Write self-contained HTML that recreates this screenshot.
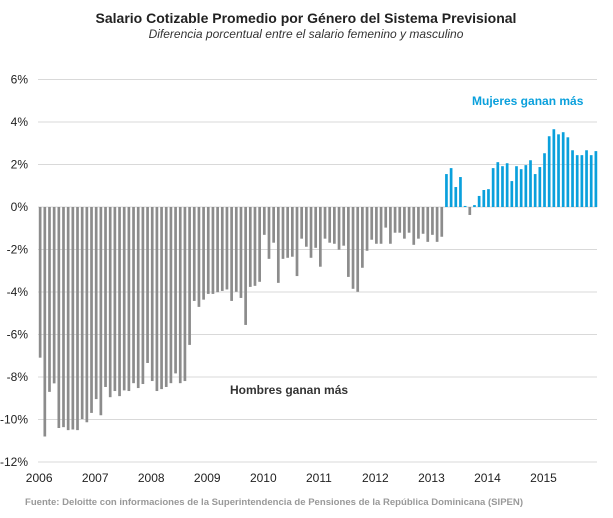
<!DOCTYPE html>
<html><head><meta charset="utf-8"><style>
body{margin:0;background:#fff;}
svg{display:block;font-family:"Liberation Sans",sans-serif;}
</style></head><body>
<svg width="613" height="518" viewBox="0 0 613 518">
<text x="306" y="23" text-anchor="middle" font-size="14" font-weight="bold" fill="#222">Salario Cotizable Promedio por Género del Sistema Previsional</text>
<text x="306" y="38" text-anchor="middle" font-size="12" font-style="italic" fill="#333">Diferencia porcentual entre el salario femenino y masculino</text>
<g id="grid"></g><g id="bars"></g><g id="yax"></g><g id="xax"></g>
<text x="472" y="105" font-size="12" font-weight="bold" fill="#0aa0dc">Mujeres ganan más</text>
<text x="230" y="394" font-size="12" font-weight="bold" fill="#333">Hombres ganan más</text>
<text x="25" y="505" font-size="9.2" font-weight="bold" fill="#999" textLength="498" lengthAdjust="spacingAndGlyphs">Fuente: Deloitte con informaciones de la Superintendencia de Pensiones de la República Dominicana (SIPEN)</text>
</svg>
<script>
const years=["2006","2007","2008","2009","2010","2011","2012","2013","2014","2015"];
const yTicks=[6,4,2,0,-2,-4,-6,-8,-10,-12];
const values=[
-7.09,-10.8,-8.7,-8.3,-10.4,-10.36,-10.5,-10.47,-10.5,-9.98,-10.13,-9.69,
-9.04,-9.8,-8.47,-8.95,-8.66,-8.9,-8.63,-8.66,-8.29,-8.52,-8.33,-7.34,
-8.19,-8.66,-8.57,-8.47,-8.29,-7.83,-8.29,-8.19,-6.49,-4.42,-4.7,-4.36,
-4.09,-4.09,-4.01,-3.95,-3.88,-4.42,-3.99,-4.28,-5.55,-3.76,-3.71,-3.52,
-1.31,-2.44,-1.68,-3.57,-2.44,-2.39,-2.34,-3.25,-1.49,-1.87,-2.39,-1.92,
-2.81,-1.49,-1.68,-1.73,-2.01,-1.82,-3.29,-3.85,-3.99,-2.86,-2.06,-1.54,
-1.73,-1.73,-0.97,-1.73,-1.21,-1.21,-1.49,-1.21,-1.78,-1.49,-1.26,-1.64,
-1.31,-1.64,-1.4,1.55,1.83,0.94,1.41,0.05,-0.375,0.09,0.52,0.8,
0.84,1.83,2.11,1.92,2.06,1.22,1.92,1.78,1.97,2.2,1.55,1.88,
2.53,3.33,3.66,3.42,3.52,3.28,2.67,2.44,2.44,2.67,2.44,2.63];
const NS="http://www.w3.org/2000/svg";
const y0=207,pp=21.25,x0=38.8,step=4.67,bw=2.7;
const yS=v=>y0-v*pp, xS=i=>x0+i*step;
function mk(tag,attrs,parent){const e=document.createElementNS(NS,tag);for(const k in attrs)e.setAttribute(k,attrs[k]);document.getElementById(parent).appendChild(e);return e;}
yTicks.forEach(t=>{
 const l=mk('line',{x1:38,x2:597,y1:yS(t),y2:yS(t),stroke:'#d9d9d9','stroke-width':1},'grid');
 
 
 const tx=mk('text',{x:28,y:yS(t)+4,'text-anchor':'end','font-size':12,fill:'#222'},'yax');
 tx.textContent=t+'%';
 
 
});
values.forEach((v,i)=>{
 const r=mk('rect',{x:xS(i),y:Math.min(yS(v),y0),width:bw,height:Math.abs(yS(v)-y0),fill:v>=0?'#0aa0dc':'#8c8c8c'},'bars');
 
 
});
years.forEach((y,k)=>{
 const tx=mk('text',{x:xS(k*12)-13,y:482,'font-size':12,fill:'#222'},'xax');
 tx.textContent=y;
 
 
});
</script>
</body></html>
